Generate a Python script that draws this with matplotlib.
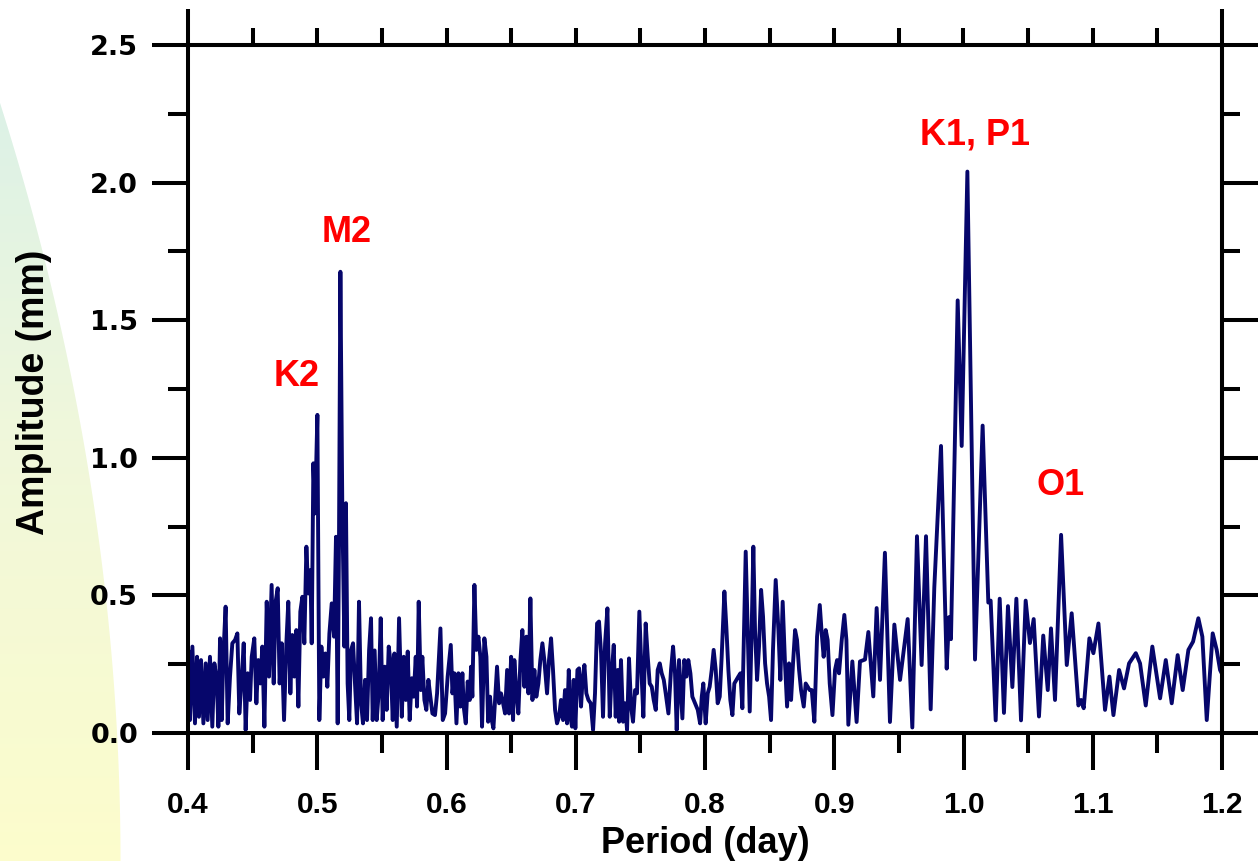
import numpy as np
import matplotlib
matplotlib.use('Agg')
import matplotlib.pyplot as plt
from matplotlib.ticker import FixedLocator

# ---------------- data ----------------
period = [
    0.4000, 0.4003, 0.4015, 0.4034, 0.4054, 0.4070, 0.4085, 0.4101, 0.4119, 0.4137,
    0.4152, 0.4170, 0.4188, 0.4204, 0.4222, 0.4235, 0.4248, 0.4261, 0.4273, 0.4291,
    0.4307, 0.4325, 0.4343, 0.4364, 0.4382, 0.4397, 0.4415, 0.4431, 0.4446, 0.4462,
    0.4480, 0.4493, 0.4513, 0.4529, 0.4544, 0.4560, 0.4575, 0.4591, 0.4609, 0.4627,
    0.4647, 0.4663, 0.4678, 0.4694, 0.4709, 0.4725, 0.4743, 0.4761, 0.4776, 0.4792,
    0.4807, 0.4823, 0.4838, 0.4854, 0.4869, 0.4885, 0.4900, 0.4916, 0.4931, 0.4947,
    0.4957, 0.4970, 0.4983, 0.5001, 0.5016, 0.5032, 0.5047, 0.5063, 0.5078, 0.5094,
    0.5112, 0.5130, 0.5145, 0.5158, 0.5168, 0.5179, 0.5194, 0.5210, 0.5222, 0.5235,
    0.5248, 0.5261, 0.5277, 0.5292, 0.5308, 0.5323, 0.5339, 0.5354, 0.5370, 0.5385,
    0.5401, 0.5416, 0.5429, 0.5444, 0.5460, 0.5475, 0.5491, 0.5506, 0.5522, 0.5537,
    0.5553, 0.5568, 0.5584, 0.5597, 0.5615,
    0.5633, 0.5654, 0.5669, 0.5685, 0.5700, 0.5715, 0.5731, 0.5746, 0.5762, 0.5772,
    0.5785, 0.5801, 0.5813, 0.5829, 0.5844, 0.5860, 0.5875, 0.5891, 0.5911, 0.5927,
    0.5953, 0.5971, 0.5989, 0.6009, 0.6033, 0.6046, 0.6061, 0.6077, 0.6092, 0.6107,
    0.6123, 0.6133, 0.6149, 0.6164, 0.6180, 0.6190, 0.6200, 0.6216, 0.6231, 0.6247,
    0.6262, 0.6275, 0.6293, 0.6309, 0.6322, 0.6337, 0.6350, 0.6363, 0.6391, 0.6407,
    0.6422, 0.6438, 0.6453, 0.6469, 0.6484, 0.6500, 0.6515, 0.6525, 0.6541, 0.6556,
    0.6572, 0.6587, 0.6603, 0.6618, 0.6634, 0.6649, 0.6665, 0.6680, 0.6695, 0.6711,
    0.6726, 0.6742, 0.6757, 0.6778, 0.6793, 0.6809, 0.6824, 0.6840, 0.6855, 0.6871,
    0.6886, 0.6902, 0.6917, 0.6933, 0.6946, 0.6959, 0.6971, 0.6984, 0.6997, 0.7013,
    0.7026, 0.7041, 0.7051, 0.7067, 0.7082, 0.7098, 0.7116, 0.7134, 0.7149, 0.7165,
    0.7180, 0.7196, 0.7211, 0.7227, 0.7245, 0.7263, 0.7278, 0.7294, 0.7309, 0.7325,
    0.7336, 0.7350,
    0.7366, 0.7381, 0.7397, 0.7412, 0.7428, 0.7443, 0.7459, 0.7474, 0.7492, 0.7510,
    0.7523, 0.7541, 0.7557, 0.7572, 0.7588, 0.7603, 0.7619, 0.7634, 0.7650, 0.7665,
    0.7681, 0.7696, 0.7717, 0.7737, 0.7753, 0.7768, 0.7781, 0.7799, 0.7815, 0.7825,
    0.7840, 0.7856, 0.7871, 0.7887, 0.7902, 0.7923, 0.7944, 0.7962, 0.7975, 0.7987,
    0.8005, 0.8021, 0.8036, 0.8052, 0.8067, 0.8083, 0.8098, 0.8114, 0.8129, 0.8150,
    0.8165, 0.8181, 0.8196, 0.8212, 0.8227, 0.8243, 0.8258, 0.8274, 0.8289, 0.8315,
    0.8330, 0.8346, 0.8361, 0.8374, 0.8387, 0.8403, 0.8418, 0.8434, 0.8449, 0.8465,
    0.8480, 0.8496, 0.8511, 0.8526, 0.8547, 0.8568, 0.8583, 0.8601, 0.8619, 0.8635,
    0.8650, 0.8666, 0.8681, 0.8697, 0.8712, 0.8728, 0.8743, 0.8764, 0.8779, 0.8795,
    0.8810, 0.8826, 0.8846, 0.8867, 0.8888, 0.8903, 0.8918, 0.8934, 0.8949, 0.8965,
    0.8986, 0.9006, 0.9022, 0.9037, 0.9058, 0.9078, 0.9094, 0.9109,
    0.9140, 0.9173, 0.9199, 0.9238, 0.9264, 0.9302, 0.9328, 0.9354, 0.9392, 0.9431,
    0.9465, 0.9509, 0.9568, 0.9604, 0.9640, 0.9676, 0.9710, 0.9746, 0.9774, 0.9826,
    0.9870, 0.9888, 0.9903, 0.9955, 0.9986, 1.0030, 1.0089, 1.0148, 1.0192, 1.0210,
    1.0249, 1.0280, 1.0313, 1.0344, 1.0378, 1.0409, 1.0445, 1.0481, 1.0514, 1.0543,
    1.0584, 1.0617,
    1.0652, 1.0677, 1.0708, 1.0755, 1.0799, 1.0837, 1.0889, 1.0910, 1.0930, 1.0974,
    1.1005, 1.1044, 1.1095, 1.1129, 1.1160, 1.1204, 1.1242, 1.1281, 1.1333, 1.1366,
    1.1410, 1.1461, 1.1521, 1.1565, 1.1611, 1.1657, 1.1696, 1.1740, 1.1776, 1.1817,
    1.1848, 1.1882, 1.1928, 1.1959, 1.1985, 1.2000,
]

amplitude = [
    0.270, 0.300, 0.047, 0.314, 0.035, 0.277, 0.059, 0.265, 0.035, 0.253,
    0.047, 0.277, 0.023, 0.253, 0.193, 0.023, 0.344, 0.047, 0.277, 0.459,
    0.035, 0.205, 0.326, 0.338, 0.362, 0.071, 0.193, 0.326, 0.011, 0.217,
    0.120, 0.277, 0.344, 0.108, 0.265, 0.180, 0.314, 0.023, 0.477, 0.205,
    0.538, 0.180, 0.477, 0.526, 0.180, 0.326, 0.047, 0.326, 0.477, 0.144,
    0.356, 0.205, 0.374, 0.096, 0.441, 0.495, 0.326, 0.677, 0.507, 0.592,
    0.326, 0.980, 0.798, 1.156, 0.047, 0.314, 0.205, 0.289, 0.168, 0.362,
    0.471, 0.350, 0.713, 0.035, 0.677, 1.676, 0.810, 0.314, 0.835, 0.180,
    0.047, 0.300, 0.326, 0.180, 0.035, 0.477, 0.108, 0.035, 0.193, 0.047,
    0.300, 0.417, 0.047, 0.300, 0.047, 0.144, 0.417, 0.047, 0.241, 0.084,
    0.314, 0.253, 0.047, 0.289, 0.023,
    0.417, 0.059, 0.277, 0.120, 0.296, 0.047, 0.199, 0.132, 0.277, 0.096,
    0.477, 0.156, 0.277, 0.120, 0.084, 0.193, 0.132, 0.071, 0.065, 0.144,
    0.380, 0.047, 0.071, 0.205, 0.320, 0.144, 0.217, 0.035, 0.217, 0.096,
    0.217, 0.096, 0.035, 0.187, 0.120, 0.241, 0.132, 0.538, 0.302, 0.350,
    0.277, 0.023, 0.344, 0.277, 0.041, 0.132, 0.047, 0.017, 0.241, 0.108,
    0.144, 0.108, 0.071, 0.229, 0.071, 0.277, 0.047, 0.265, 0.144, 0.071,
    0.265, 0.374, 0.168, 0.350, 0.144, 0.489, 0.120, 0.229, 0.132, 0.180,
    0.265, 0.326, 0.265, 0.144, 0.265, 0.344, 0.229, 0.084, 0.035, 0.059,
    0.120, 0.047, 0.156, 0.035, 0.229, 0.059, 0.023, 0.193, 0.017, 0.229,
    0.235, 0.096, 0.180, 0.247, 0.144, 0.120, 0.108, 0.011, 0.144, 0.398,
    0.405, 0.289, 0.059, 0.326, 0.453, 0.059, 0.217, 0.320, 0.059, 0.229,
    0.041, 0.265,
    0.041, 0.108, 0.011, 0.271, 0.096, 0.041, 0.156, 0.144, 0.441, 0.205,
    0.059, 0.398, 0.277, 0.180, 0.168, 0.120, 0.084, 0.229, 0.253, 0.217,
    0.193, 0.144, 0.071, 0.229, 0.314, 0.217, 0.011, 0.265, 0.132, 0.053,
    0.265, 0.205, 0.265, 0.217, 0.132, 0.108, 0.084, 0.035, 0.132, 0.180,
    0.035, 0.144, 0.168, 0.229, 0.302, 0.229, 0.108, 0.132, 0.277, 0.514,
    0.386, 0.229, 0.120, 0.065, 0.180, 0.193, 0.205, 0.217, 0.090, 0.659,
    0.374, 0.078, 0.374, 0.677, 0.374, 0.193, 0.314, 0.520, 0.423, 0.253,
    0.180, 0.132, 0.047, 0.302, 0.556, 0.374, 0.193, 0.477, 0.253, 0.096,
    0.253, 0.120, 0.253, 0.374, 0.338, 0.229, 0.156, 0.096, 0.180, 0.168,
    0.156, 0.156, 0.041, 0.350, 0.465, 0.362, 0.277, 0.374, 0.338, 0.180,
    0.065, 0.229, 0.265, 0.217, 0.338, 0.429, 0.338, 0.030,
    0.260, 0.040, 0.260, 0.267, 0.367, 0.133, 0.454, 0.193, 0.655, 0.040,
    0.394, 0.193, 0.414, 0.020, 0.715, 0.247, 0.715, 0.086, 0.528, 1.043,
    0.234, 0.421, 0.341, 1.572, 1.043, 2.040, 0.267, 1.117, 0.474, 0.481,
    0.046, 0.488, 0.073, 0.461, 0.167, 0.488, 0.046, 0.481, 0.327, 0.414,
    0.060, 0.354,
    0.156, 0.380, 0.120, 0.720, 0.247, 0.435, 0.100, 0.120, 0.090, 0.344,
    0.290, 0.398, 0.084, 0.205, 0.065, 0.229, 0.162, 0.253, 0.290, 0.253,
    0.100, 0.314, 0.126, 0.265, 0.108, 0.283, 0.156, 0.302, 0.332, 0.417,
    0.350, 0.047, 0.362, 0.302, 0.229, 0.215,
]

x_ticks = [0.4, 0.5, 0.6, 0.7, 0.8, 0.9, 1.0, 1.1, 1.2]
x_tick_labels = ['0.4', '0.5', '0.6', '0.7', '0.8', '0.9', '1.0', '1.1', '1.2']
y_ticks = [0.0, 0.5, 1.0, 1.5, 2.0, 2.5]
y_tick_labels = ['0.0', '0.5', '1.0', '1.5', '2.0', '2.5']

peak_labels = ['K2', 'M2', 'K1, P1', 'O1']

# ---------------- figure ----------------
W, H = 1258, 861
fig = plt.figure(figsize=(W / 100, H / 100), dpi=100, facecolor='white')

# decorative slide background (soft arc on the left)
bg = fig.add_axes([0, 0, 1, 1], zorder=0)
bg.axis('off')
yy, xx = np.mgrid[0:H, 0:W]
boundary = 120 - 2.094e-4 * (H - yy) ** 2
t = (yy / (H - 1.0))[..., None]
top_c = np.array([0.84, 0.94, 0.92])
mid_c = np.array([0.94, 0.97, 0.86])
bot_c = np.array([0.99, 0.99, 0.80])
col = np.where(t < 0.5, top_c * (1 - 2 * t) + mid_c * (2 * t),
               mid_c * (2 - 2 * t) + bot_c * (2 * t - 1))
img = np.ones((H, W, 4))
img[..., :3] = col
img[..., 3] = np.clip(boundary - xx + 0.5, 0, 1)
bg.imshow(img, extent=[0, 1, 0, 1], aspect='auto', origin='upper')
bg.set_xlim(0, 1)
bg.set_ylim(0, 1)

ax = fig.add_axes([188 / W, 1 - 733 / H, (1222 - 188) / W, (733 - 45) / H], zorder=2)
ax.set_facecolor('white')

ax.plot(period, amplitude, color='#06066B', lw=2.8, solid_joinstyle='round')

ax.set_xlim(0.4, 1.2)
ax.set_ylim(0.0, 2.5)

lw_spine = 2.9
for s in ax.spines.values():
    s.set_linewidth(lw_spine)

ax.set_xticks(x_ticks, x_tick_labels, fontsize=21.5, fontweight='bold',
              fontfamily='Liberation Sans')
ax.xaxis.set_minor_locator(FixedLocator(np.arange(0.45, 1.2, 0.1)))
ax.set_yticks(y_ticks, y_tick_labels, fontsize=19.5, fontweight='bold',
              fontfamily='DejaVu Sans')
ax.yaxis.set_minor_locator(FixedLocator(np.arange(0.25, 2.5, 0.5)))

ax.tick_params(axis='x', which='major', direction='out', length=26.5, width=lw_spine, pad=15)
ax.tick_params(axis='x', which='minor', direction='out', length=14.5, width=lw_spine)
ax.tick_params(axis='y', which='major', direction='out', length=26, width=lw_spine, pad=10)
ax.tick_params(axis='y', which='minor', direction='out', length=14.5, width=lw_spine)

# top axis: long ticks at the corners, short ticks every 0.05
secx = ax.secondary_xaxis('top')
secx.set_xticks([0.4, 1.2])
secx.set_xticklabels([])
secx.xaxis.set_minor_locator(FixedLocator(np.arange(0.45, 1.18, 0.05)))
secx.tick_params(which='major', direction='out', length=26, width=lw_spine)
secx.tick_params(which='minor', direction='out', length=12.5, width=lw_spine)
secx.spines['top'].set_linewidth(lw_spine)

# right axis
secy = ax.secondary_yaxis('right')
secy.set_yticks(y_ticks)
secy.set_yticklabels([])
secy.yaxis.set_minor_locator(FixedLocator(np.arange(0.25, 2.5, 0.5)))
secy.tick_params(which='major', direction='out', length=26, width=lw_spine)
secy.tick_params(which='minor', direction='out', length=13, width=lw_spine)
secy.spines['right'].set_linewidth(lw_spine)

# peak labels
label_pos = [(0.4843, 1.294), (0.523, 1.817), (1.009, 2.173), (1.0754, 0.898)]
for txt, (lx, ly) in zip(peak_labels, label_pos):
    ax.text(lx, ly, txt, color='#FF0000', fontsize=26, fontweight='bold',
            fontfamily='Liberation Sans', ha='center', va='center')

# axis titles
fig.text(34 / W, 1 - 392 / H, 'Amplitude (mm)', rotation=90, ha='center', va='center',
         fontsize=27, fontweight='bold', fontfamily=['Liberation Sans Narrow', 'Liberation Sans'])
fig.text(705 / W, 1 - 853 / H, 'Period (day)', ha='center', va='baseline',
         fontsize=26, fontweight='bold', fontfamily='Liberation Sans')

fig.savefig('out.png', dpi=100)
